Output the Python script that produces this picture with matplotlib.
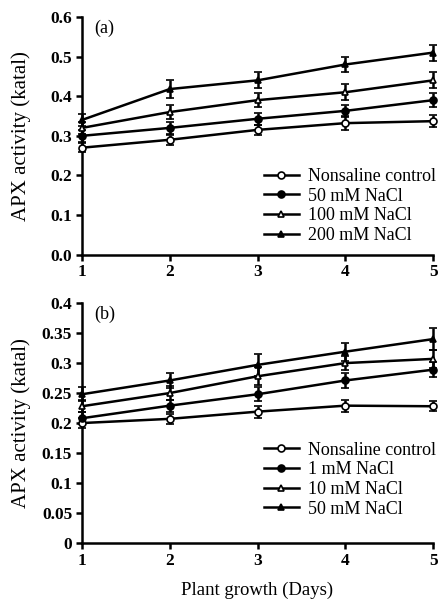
import matplotlib
matplotlib.use("Agg")
import matplotlib.pyplot as plt
from matplotlib.lines import Line2D

plt.rcParams['font.family'] = ['Liberation Serif', 'DejaVu Serif']

days = [1, 2, 3, 4, 5]

# Panel (a)
a_labels = ["Nonsaline control", "50 mM NaCl", "100 mM NaCl", "200 mM NaCl"]
a_vals = [
    [0.27, 0.29, 0.315, 0.332, 0.337],
    [0.30, 0.32, 0.343, 0.363, 0.39],
    [0.32, 0.36, 0.39, 0.41, 0.44],
    [0.34, 0.418, 0.44, 0.48, 0.51],
]
a_err = [
    [0.012, 0.012, 0.012, 0.018, 0.015],
    [0.015, 0.015, 0.015, 0.015, 0.018],
    [0.015, 0.018, 0.018, 0.02, 0.02],
    [0.015, 0.022, 0.02, 0.02, 0.02],
]
a_yticks = [0.0, 0.1, 0.2, 0.3, 0.4, 0.5, 0.6]
a_yticklabels = ["0.0", "0.1", "0.2", "0.3", "0.4", "0.5", "0.6"]

# Panel (b)
b_labels = ["Nonsaline control", "1 mM NaCl", "10 mM NaCl", "50 mM NaCl"]
b_vals = [
    [0.20, 0.207, 0.219, 0.229, 0.228],
    [0.208, 0.229, 0.248, 0.271, 0.289],
    [0.228, 0.25, 0.278, 0.30, 0.307],
    [0.248, 0.271, 0.297, 0.319, 0.34],
]
b_err = [
    [0.008, 0.008, 0.01, 0.01, 0.008],
    [0.01, 0.01, 0.012, 0.012, 0.012],
    [0.01, 0.012, 0.015, 0.012, 0.015],
    [0.012, 0.012, 0.018, 0.015, 0.018],
]
b_yticks = [0, 0.05, 0.1, 0.15, 0.2, 0.25, 0.3, 0.35, 0.4]
b_yticklabels = ["0", "0.05", "0.1", "0.15", "0.2", "0.25", "0.3", "0.35", "0.4"]

xticks = [1, 2, 3, 4, 5]

styles = [
    dict(marker='o', mfc='white'),
    dict(marker='o', mfc='black'),
    dict(marker='^', mfc='white'),
    dict(marker='^', mfc='black'),
]

fig = plt.figure(figsize=(4.38, 6.05), dpi=100)
ax1 = fig.add_axes([0.187, 0.579, 0.802, 0.393])
ax2 = fig.add_axes([0.187, 0.1025, 0.802, 0.3965])

def draw(ax, vals, errs, labels, yticks, ylabels, ymax, tag, leg_y):
    for v, e, st in zip(vals, errs, styles):
        ax.errorbar(days, v, yerr=e, color='black', lw=1.8, ms=5,
                    mec='black', mew=1.2, capsize=3, capthick=1.8,
                    elinewidth=1.8, clip_on=False, zorder=3, **st)
    handles = [Line2D([0], [0], color='black', lw=1.8, ms=5, mec='black',
                      mew=1.2, **st) for st in styles]
    ax.legend(handles, labels, loc='lower right', frameon=False,
              fontsize=13, handlelength=1.9, handletextpad=0.5,
              labelspacing=0.15, borderaxespad=0.0, borderpad=0.2,
              bbox_to_anchor=(1.017, leg_y))
    ax.set_xlim(1, 5)
    ax.set_ylim(0, ymax)
    ax.set_xticks(xticks)
    ax.set_xticklabels([str(x) for x in xticks], fontsize=12.5, fontweight='bold')
    ax.set_yticks(yticks)
    ax.set_yticklabels(ylabels, fontsize=12.5, fontweight='bold')
    ax.spines['top'].set_visible(False)
    ax.spines['right'].set_visible(False)
    ax.spines['left'].set_linewidth(1.8)
    ax.spines['bottom'].set_linewidth(1.8)
    ax.tick_params(direction='out', length=4, width=1.8, pad=3)
    ax.set_ylabel("APX activity (katal)", fontsize=15)
    ax.text(0.035, 0.99, tag, transform=ax.transAxes, fontsize=13,
            va='top', ha='left')

draw(ax1, a_vals, a_err, a_labels, a_yticks, a_yticklabels, 0.6, "(a)", 0.03)
draw(ax2, b_vals, b_err, b_labels, b_yticks, b_yticklabels, 0.4, "(b)", 0.09)
ax2.set_xlabel("Plant growth (Days)", fontsize=13.5, labelpad=9)
ax1.yaxis.set_label_coords(-0.145, 0.5)
ax2.yaxis.set_label_coords(-0.145, 0.5)

fig.savefig("out.png", dpi=100)
